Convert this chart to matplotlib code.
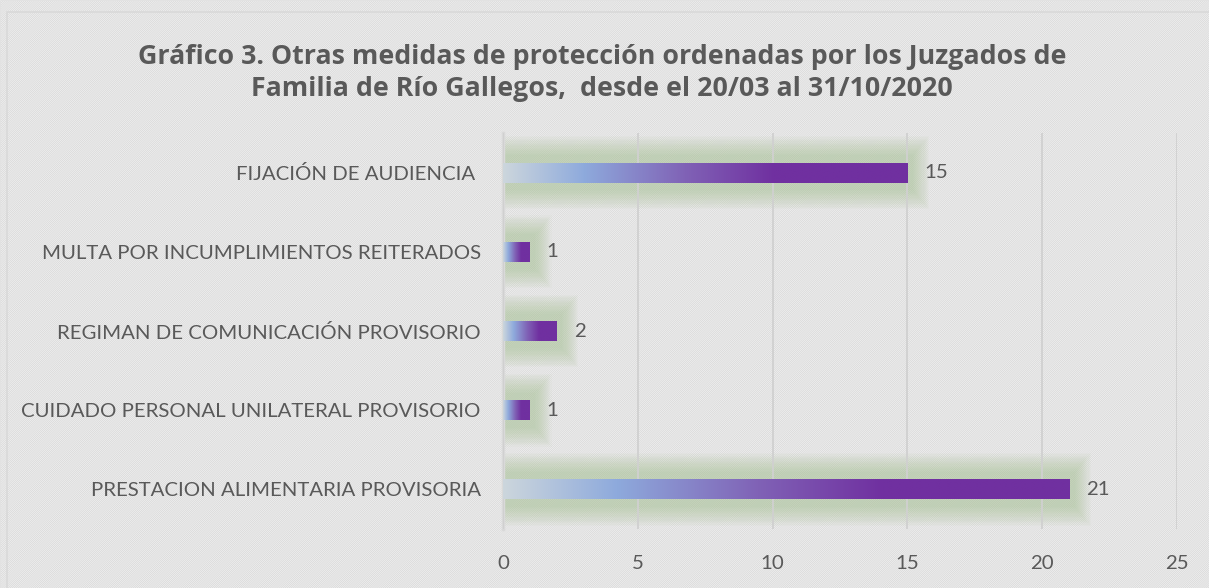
import numpy as np
import matplotlib
matplotlib.use("Agg")
import matplotlib.pyplot as plt
from matplotlib.colors import LinearSegmentedColormap
from matplotlib.patches import Rectangle

categorias = [
    "PRESTACION ALIMENTARIA PROVISORIA",
    "CUIDADO PERSONAL UNILATERAL PROVISORIO",
    "REGIMAN DE COMUNICACIÓN PROVISORIO",
    "MULTA POR INCUMPLIMIENTOS REITERADOS",
    "FIJACIÓN DE AUDIENCIA ",
]
valores = [21, 1, 2, 1, 15]
ticks_x = [0, 5, 10, 15, 20, 25]
titulo = ("Gráfico 3. Otras medidas de protección ordenadas por los Juzgados de\n"
          "Familia de Río Gallegos,  desde el 20/03 al 31/10/2020")

gris = "#595959"
plt.rcParams['hatch.linewidth'] = 0.8
plt.rcParams['hatch.color'] = '#dcdcdc'

fig = plt.figure(figsize=(12.09, 5.88), dpi=100)
fig.patch.set_facecolor('white')
# fondo rayado
fondo = Rectangle((0, 0), 1, 1, transform=fig.transFigure, facecolor='white',
                  edgecolor='#dcdcdc', hatch='/' * 16, linewidth=0.5, zorder=-10)
fig.patches.append(fondo)
borde = Rectangle((7 / 1209, -0.05), 1.1, 1 - 12 / 588 + 0.05, transform=fig.transFigure,
                  facecolor='none', edgecolor='#d9d9d9', linewidth=1.2, zorder=-9)
fig.patches.append(borde)

ax = fig.add_axes([503 / 1209, 0.1003, 1177 / 1209 - 503 / 1209, 0.7738 - 0.1003])
ax.patch.set_alpha(0)

grad = LinearSegmentedColormap.from_list('g', [
    (0.0, '#ccd6dc'), (0.2, '#8eaadc'), (0.45, '#8062b6'), (0.67, '#7030a0'), (1.0, '#7030a0')])
img = grad(np.linspace(0, 1, 256))[None, :, :]

y = np.arange(len(categorias))
h = 0.25

# brillo verde alrededor de las barras
for i, v in enumerate(valores):
    for k in range(16):
        hh = 0.22 + 0.016 * k
        ext = 0.2 + 0.04 * k
        ax.add_patch(Rectangle((0, y[i] - hh), v + ext, 2 * hh,
                               facecolor='#a9c394', edgecolor='none',
                               alpha=0.045, zorder=1))

for i, v in enumerate(valores):
    ax.imshow(img, extent=[0, v, y[i] - h / 2, y[i] + h / 2], aspect='auto',
              interpolation='bilinear', zorder=3)
    ax.text(v + 0.62, y[i], str(v), va='center', ha='left', fontsize=14.7,
            color=gris, family='Lato')

ax.set_xlim(0, 25)
ax.set_ylim(-0.5, len(categorias) - 0.5)
ax.set_xticks(ticks_x)
ax.set_yticks(y)
ax.set_yticklabels(categorias, family='Lato', fontsize=14.7, color=gris)
ax.set_xticklabels([str(t) for t in ticks_x], family='Lato', fontsize=14.7, color=gris)
ax.tick_params(axis='y', length=0, pad=16)
ax.tick_params(axis='x', length=0, pad=19)
ax.grid(axis='x', color='#d0d0d0', linewidth=1.3, zorder=2)
ax.set_axisbelow(False)
for s in ['top', 'right', 'bottom']:
    ax.spines[s].set_visible(False)
ax.spines['left'].set_color('#d9d9d9')
ax.spines['left'].set_linewidth(2.5)

fig.text(0.498, 0.875, titulo, ha='center', va='center', fontsize=19.3,
         fontweight='bold', color=gris, family='Open Sans', linespacing=1.3)

fig.savefig('out.png', dpi=100)
